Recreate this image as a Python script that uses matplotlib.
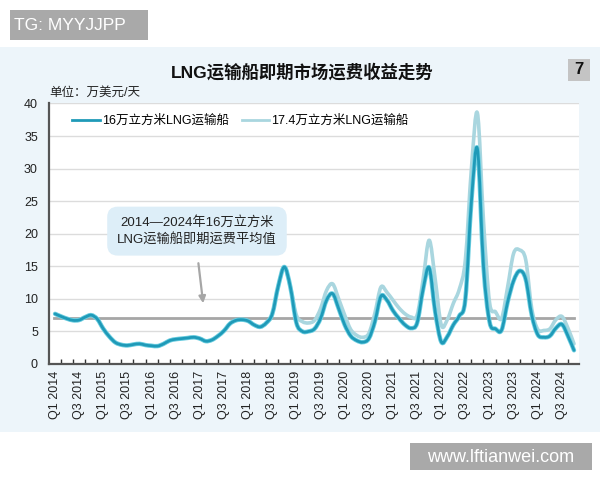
import numpy as np
import matplotlib
matplotlib.use("Agg")
import matplotlib.pyplot as plt
from matplotlib.patches import Rectangle, PathPatch
from matplotlib.path import Path
from matplotlib.lines import Line2D
import matplotlib.patheffects as pe

plt.rcParams['font.family'] = ['Liberation Sans', 'Noto Sans CJK SC', 'DejaVu Sans']

# quarter index, 0 = Q1 2014, sampled every half quarter
q = np.arange(0, 43.01, 0.5)

ship_160k = [7.7, 7.3, 6.95, 6.7, 6.75, 7.2, 7.5, 6.9, 5.4, 4.2,
             3.3, 2.95, 2.85, 3.0, 3.1, 2.9, 2.8, 2.75, 3.1, 3.6,
             3.8, 3.9, 4.0, 4.1, 3.9, 3.5, 3.7, 4.3, 5.1, 6.2,
             6.7, 6.8, 6.6, 6.0, 5.7, 6.3, 7.7, 12.0, 14.9, 11.8,
             6.3, 5.0, 5.0, 5.4, 7.0, 9.8, 10.8, 8.5, 6.0, 4.3,
             3.6, 3.35, 3.9, 6.5, 10.4, 9.8, 8.2, 7.0, 6.0, 5.5,
             6.3, 11.5, 14.8, 8.0, 3.4, 4.2, 6.0, 7.4, 10.0, 25.0,
             33.0, 15.0, 6.5, 5.4, 5.2, 9.5, 12.8, 14.3, 13.0, 7.5,
             4.5, 4.1, 4.3, 5.5, 6.1, 4.3, 2.1]

ship_174k = ship_160k[:40] + [
             7.5, 6.5, 6.3, 6.7, 8.5, 11.3, 12.3, 10.0, 7.5, 5.3,
             4.4, 4.1, 4.7, 7.8, 11.8, 11.0, 9.8, 8.6, 7.7, 7.2,
             7.5, 13.0, 19.0, 13.0, 6.0, 6.8, 9.3, 11.5, 16.0, 30.0,
             38.5, 22.0, 9.5, 8.0, 7.0, 11.8, 17.0, 17.5, 16.0, 8.5,
             5.3, 5.15, 5.4, 6.8, 7.3, 5.5, 3.1]

avg_value = 7.0

tick_labels = []
for year in range(2014, 2025):
    tick_labels += ["Q1 %d" % year, "Q3 %d" % year]


def smooth_path(x, y):
    # catmull-rom style bezier through the data points
    p = np.column_stack([x, y]).astype(float)
    n = len(p)
    verts = [p[0]]
    codes = [Path.MOVETO]
    for i in range(n - 1):
        p0 = p[i - 1] if i > 0 else p[i]
        p3 = p[i + 2] if i + 2 < n else p[i + 1]
        c1 = p[i] + (p[i + 1] - p0) / 6.0
        c2 = p[i + 1] - (p3 - p[i]) / 6.0
        verts += [c1, c2, p[i + 1]]
        codes += [Path.CURVE4] * 3
    return Path(verts, codes)


fig = plt.figure(figsize=(6, 4.8), dpi=100)
fig.patch.set_facecolor('white')

# light blue panel behind the chart
fig.patches.append(Rectangle((0, 0.1), 1, 0.802, transform=fig.transFigure,
                             facecolor='#edf5fa', edgecolor='none', zorder=-10))

ax = fig.add_axes([0.0817, 0.2417, 0.883, 0.5427])
ax.set_facecolor('white')

light_col = '#a9d6df'
dark_col = '#1f9ab8'
ax.add_patch(PathPatch(smooth_path(q, ship_174k), fill=False, edgecolor=light_col,
                       lw=2.6, capstyle='round', joinstyle='round', zorder=3))
ax.add_patch(PathPatch(smooth_path(q, ship_160k), fill=False, edgecolor=dark_col,
                       lw=2.0, capstyle='round', joinstyle='round', zorder=4,
                       path_effects=[pe.Stroke(linewidth=3.2, foreground='#6fd0e2'),
                                     pe.Normal()]))
ax.axhline(avg_value, xmin=0.01, xmax=0.99, color='#a6a6a6', lw=2, zorder=2)

ax.set_xlim(-0.5, 43.4)
ax.set_ylim(0, 40)
ax.set_yticks(range(0, 41, 5))
ax.grid(axis='y', color='#dcdcdc', lw=1)
ax.set_axisbelow(True)

ax.set_xticks(np.arange(0, 43, 2))
ax.set_xticklabels(tick_labels, rotation=90, fontsize=9, color='#222222')
ax.set_xticks(np.arange(0.5, 43.5, 1), minor=True)
ax.tick_params(axis='x', which='major', length=0, pad=5)
ax.tick_params(axis='x', which='minor', direction='in', length=3.5, width=1, color='#333333')
ax.tick_params(axis='y', length=0, pad=8, labelsize=9, labelcolor='#222222')

for s in ['top', 'right']:
    ax.spines[s].set_visible(False)
for s in ['left', 'bottom']:
    ax.spines[s].set_color('#555555')
    ax.spines[s].set_linewidth(1.6)

handles = [Line2D([], [], color=dark_col, lw=2),
           Line2D([], [], color=light_col, lw=2)]
labels = ['16万立方米LNG运输船', '17.4万立方米LNG运输船']
ax.legend(handles, labels, ncol=2, frameon=False, fontsize=9,
          loc='center left', bbox_to_anchor=(72 / 600, 1 - 121 / 480),
          bbox_transform=fig.transFigure, borderpad=0, borderaxespad=0,
          handlelength=2.2, handletextpad=0.2, columnspacing=1.0)

ax.text(11.76, 20.4, '2014—2024年16万立方米\nLNG运输船即期运费平均值',
        ha='center', va='center', fontsize=9.5, color='#222222', linespacing=1.35,
        bbox=dict(boxstyle='round,pad=0.75,rounding_size=0.8',
                  facecolor='#ddeef8', edgecolor='none'), zorder=5)
ax.annotate('', xy=(12.3, 8.9), xytext=(11.85, 15.9),
            arrowprops=dict(arrowstyle='-|>', color='#a6a6a6', lw=1.6,
                            mutation_scale=10), zorder=5)

fig.text(302 / 600, 1 - 72 / 480, 'LNG运输船即期市场运费收益走势', ha='center',
         va='center', fontsize=12.5, fontweight='bold', color='#111111')
fig.text(49 / 600, 1 - 93 / 480, '单位：万美元/天', ha='left', va='center',
         fontsize=9, color='#222222')

# page number box
fig.patches.append(Rectangle((568 / 600, 1 - 81 / 480), 22 / 600, 22 / 480,
                             transform=fig.transFigure, facecolor='#c4c4c4',
                             edgecolor='none'))
fig.text(579 / 600, 1 - 70 / 480, '7', ha='center', va='center', fontsize=12,
         fontweight='bold', color='#111111')

# watermark boxes
fig.patches.append(Rectangle((10 / 600, 1 - 40 / 480), 138 / 600, 30 / 480,
                             transform=fig.transFigure, facecolor='#a9a9a9',
                             edgecolor='none'))
fig.text(14 / 600, 1 - 25 / 480, 'TG: MYYJJPP', ha='left', va='center',
         fontsize=12.5, color='white')
fig.patches.append(Rectangle((410 / 600, 1 - 470 / 480), 182 / 600, 27 / 480,
                             transform=fig.transFigure, facecolor='#a9a9a9',
                             edgecolor='none'))
fig.text(501 / 600, 1 - 457 / 480, 'www.lftianwei.com', ha='center', va='center',
         fontsize=13, color='white')

fig.savefig('out.png', dpi=100)
